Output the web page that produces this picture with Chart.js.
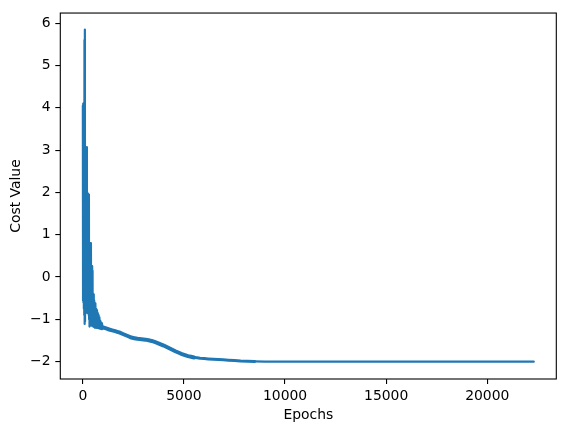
<!DOCTYPE html>
<html>
<head>
<meta charset="utf-8">
<script src="https://cdn.jsdelivr.net/npm/chart.js@4.4.0/dist/chart.umd.min.js"></script>
<style>
  html, body { margin: 0; padding: 0; background: #ffffff; }
  #wrap { width: 565px; height: 432px; position: relative; }
</style>
</head>
<body>
<div id="wrap"><canvas id="c" width="565" height="432"></canvas></div>
<script>
// ---- data ----
const epochs = [
  0, 10, 20, 30, 40, 50, 60, 70, 80, 90, 100, 110, 120, 130, 140, 150, 160, 170, 180, 190,
  200, 210, 220, 230, 240, 250, 260, 270, 280, 290, 300, 310, 320, 330, 340, 350, 360, 370,
  380, 390, 400, 410, 420, 430, 440, 450, 460, 470, 480, 490, 500, 510, 520, 530, 540, 550,
  560, 570, 580, 600, 620, 640, 660, 680, 700, 720, 740, 760, 780, 800, 820, 840, 860, 880,
  900, 940,
  1000, 1300, 1600, 1800, 2100, 2400, 2700, 3100, 3400, 3700, 4000, 4300, 4600,
  4900, 5200, 5500, 5800, 6200, 6700, 7200, 7800, 8500, 9500, 12000, 16000, 20000, 22300
];
const costValues = [
  4.05, -0.56, 4.1, -0.6, 3.9, -0.75, 4.0, -0.9, 5.6, -1.11, 5.85, -1.05, 3.07, -0.8, 2.9, -0.8, 3.05, -0.82, 2.8, -0.8,
  3.07, -0.85, 1.97, -0.8, 1.9, -0.82, 1.97, -0.85, 1.8, -0.9, 1.95, -1.0, 0.8, -1.17, 0.75, -1.1, 0.8, -1.05,
  0.7, -1.1, 0.8, -1.12, 0.26, -1.15, 0.2, -1.12, 0.26, -1.15, 0.15, -1.15, -0.41, -1.17, -0.45, -1.15, -0.41, -1.18,
  -0.55, -1.18, -0.6, -1.2, -0.62, -1.19, -0.75, -1.2, -0.78, -1.2, -0.85, -1.21, -0.9, -1.21, -0.95, -1.22, -1.03, -1.22,
  -1.1, -1.21,
  -1.19, -1.24, -1.28, -1.31, -1.37, -1.43, -1.46, -1.48, -1.51, -1.56, -1.62, -1.69, -1.76,
  -1.82, -1.87, -1.90, -1.92, -1.935, -1.95, -1.965, -1.985, -1.995, -2.0, -2.0, -2.0, -2.0, -2.0
];
const xTickValues = [0, 5000, 10000, 15000, 20000];
const yTickValues = [-2, -1, 0, 1, 2, 3, 4, 5, 6];
const xTitle = "Epochs";
const yTitle = "Cost Value";

const points = epochs.map((e, i) => ({ x: e, y: costValues[i] }));
const minus = v => String(v).replace('-', '\u2212');
const FONT = "'DejaVu Sans', sans-serif";

const framePlugin = {
  id: 'frame',
  afterDatasetsDraw(chart) {
    const a = chart.chartArea, ctx = chart.ctx;
    ctx.save();
    ctx.strokeStyle = '#000';
    ctx.lineWidth = 1.1;
    ctx.strokeRect(a.left, a.top, a.right - a.left, a.bottom - a.top);
    ctx.restore();
  }
};

new Chart(document.getElementById('c'), {
  type: 'line',
  data: {
    datasets: [{
      data: points,
      borderColor: '#1f77b4',
      backgroundColor: '#1f77b4',
      borderWidth: 2.2,
      borderJoinStyle: 'round',
      borderCapStyle: 'round',
      pointRadius: 0,
      tension: 0.00001,
      fill: false,
      segment: {
        borderWidth: ctx => {
          const x = ctx.p0.parsed.x;
          if (x < 900) return 2.2;
          if (x < 5500) return 4;
          if (x < 8000) return 3;
          return 2.2;
        }
      }
    }]
  },
  options: {
    responsive: false,
    animation: false,
    devicePixelRatio: 1,
    layout: { padding: { left: 0, top: 10, right: 8.7, bottom: 0 } },
    plugins: { legend: { display: false }, tooltip: { enabled: false } },
    scales: {
      x: {
        type: 'linear',
        min: -1115,
        max: 23415,
        afterFit: s => { s.height = 53; },
        afterBuildTicks: s => { s.ticks = xTickValues.map(v => ({ value: v })); },
        border: { display: false },
        grid: { drawOnChartArea: false, drawTicks: true, tickLength: 5, color: '#000', lineWidth: 1.1 },
        ticks: { color: '#000', font: { family: FONT, size: 13.9 }, padding: 4, maxRotation: 0, autoSkip: false,
                 callback: v => minus(v) },
        title: { display: true, text: xTitle, color: '#000', font: { family: FONT, size: 13.9 },
                 padding: { top: 0, bottom: 8 } }
      },
      y: {
        type: 'linear',
        min: -2.41,
        max: 6.24,
        afterFit: s => { s.width = 60.3; },
        afterBuildTicks: s => { s.ticks = yTickValues.map(v => ({ value: v })); },
        border: { display: false },
        grid: { drawOnChartArea: false, drawTicks: true, tickLength: 5, color: '#000', lineWidth: 1.1 },
        ticks: { color: '#000', font: { family: FONT, size: 13.9 }, padding: 4.7, autoSkip: false,
                 callback: v => minus(v) },
        title: { display: true, text: yTitle, color: '#000', font: { family: FONT, size: 13.9 },
                 padding: { top: 8.4, bottom: 0 } }
      }
    }
  },
  plugins: [framePlugin]
});
</script>
</body>
</html>
